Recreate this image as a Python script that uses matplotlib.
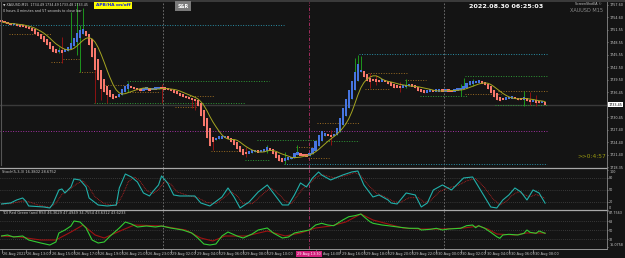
import numpy as np
import pandas as pd
import matplotlib
matplotlib.use("Agg")
import matplotlib.pyplot as plt
from matplotlib.lines import Line2D
from matplotlib.patches import Rectangle

W, H = 625, 258
BG = "#141414"

# ── Price data (M15 bars, 26 Aug 11:00 -> 30 Aug) ───────────────────────────
CLOSE = [
    1753.5, 1753.2, 1753.0, 1752.7, 1753.0, 1752.5, 1752.3, 1752.5, 1752.0, 1751.8,
    1751.3, 1750.6, 1750.1, 1749.4, 1748.6, 1747.9, 1746.9, 1746.2, 1746.0, 1746.5,
    1746.2, 1746.7, 1747.4, 1748.4, 1749.6, 1750.8, 1751.5, 1751.8, 1750.1, 1747.9,
    1745.0, 1741.9, 1739.4, 1737.3, 1736.5, 1735.8, 1735.3, 1734.8, 1735.3, 1736.1,
    1737.3, 1738.0, 1738.5, 1737.7, 1737.3, 1737.0, 1736.8, 1737.3, 1737.5, 1737.0,
    1737.3, 1737.5, 1737.7, 1737.5, 1737.3, 1737.0, 1736.8, 1736.3, 1736.1, 1735.6,
    1735.3, 1735.1, 1734.8, 1734.6, 1734.4, 1733.1, 1730.7, 1728.3, 1725.4, 1723.5,
    1724.4, 1725.4, 1725.9, 1725.6, 1725.6, 1725.4, 1724.4, 1723.7, 1722.7, 1722.0,
    1721.3, 1721.5, 1722.0, 1722.3, 1722.5, 1722.0, 1722.3, 1722.5, 1723.2, 1722.5,
    1721.5, 1720.6, 1719.8, 1719.6, 1720.3, 1720.6, 1720.8, 1721.8, 1722.0, 1721.3,
    1721.0, 1721.0, 1721.8, 1723.0, 1724.7, 1726.1, 1727.1, 1726.6, 1726.1, 1725.6,
    1726.4, 1727.8, 1730.2, 1732.7, 1734.8, 1737.0, 1739.2, 1741.4, 1743.3, 1741.9,
    1740.2, 1739.2, 1739.0, 1739.4, 1739.2, 1739.0, 1739.4, 1739.2, 1738.5, 1738.0,
    1737.5, 1737.7, 1737.7, 1738.0, 1738.2, 1738.5, 1738.0, 1737.5, 1736.8, 1736.5,
    1736.3, 1736.8, 1737.0, 1736.8, 1737.0, 1737.0, 1736.8, 1737.0, 1736.8, 1736.8,
    1737.0, 1737.3, 1737.3, 1738.0, 1738.7, 1739.2, 1739.0, 1739.0, 1739.2, 1738.7,
    1738.2, 1737.3, 1736.3, 1735.3, 1734.6, 1734.4, 1734.8, 1735.1, 1735.1, 1735.3,
    1735.1, 1734.6, 1734.8, 1735.1, 1734.4, 1734.1, 1734.4, 1734.1, 1733.9, 1734.1,
    1733.45,
]
FIRST_OPEN = 1754.0

# notable wicks: bar, high, low
WICK_BAR = [19, 20, 23, 25, 26, 27, 31, 33, 35, 42, 53, 63, 64, 70, 81, 88, 94, 98,
            109, 117, 118, 119, 122, 124, 132, 134, 152, 153, 156, 173, 175, 177]
WICK_HI = [1747.43, 1749.85, 1756.00, 1758.07, 1752.75, 1756.86, 1743.07, 1738.23,
           1736.29, 1738.96, 1738.47, 1735.08, 1734.84, 1724.92, 1723.23, 1723.71,
           1722.02, 1723.71, 1727.34, 1744.76, 1745.49, 1745.25, 1741.13, 1740.65,
           1738.96, 1739.68, 1738.47, 1739.92, 1739.68, 1736.78, 1736.54, 1735.81]
WICK_LO = [1745.97, 1743.55, 1747.91, 1745.49, 1741.38, 1751.54, 1733.87, 1734.60,
           1733.87, 1736.54, 1733.87, 1732.66, 1732.18, 1722.50, 1720.81, 1721.77,
           1719.11, 1721.29, 1723.71, 1739.44, 1741.86, 1741.38, 1737.50, 1738.23,
           1736.54, 1737.50, 1735.57, 1737.50, 1738.00, 1733.15, 1733.39, 1733.15]

# support / resistance levels: price, first bar, last bar, kind
LVL_PRICE = [1752.75, 1745.73, 1727.10, 1719.11, 1750.57, 1743.80, 1744.52, 1741.38,
             1739.20, 1738.23, 1736.54, 1733.87, 1735.57, 1732.91, 1722.26, 1720.08,
             1724.92, 1723.23, 1720.56, 1729.03, 1724.68, 1741.13, 1737.26, 1739.44,
             1740.41, 1736.78, 1735.57, 1736.05, 1733.39]
LVL_FROM = [0, 119, 0, 94, 3, 17, 21, 26, 42, 33, 42, 31, 62, 58, 70, 81, 85, 98, 102,
            105, 108, 122, 121, 134, 154, 165, 139, 154, 164]
LVL_TO = [93, 180, 180, 180, 16, 20, 25, 31, 88, 42, 52, 80, 70, 64, 79, 88, 104, 103,
          108, 118, 118, 134, 128, 140, 180, 180, 154, 165, 180]
LVL_KIND = ["c", "c", "m", "c", "o", "o", "o", "o", "g", "o", "o", "g", "o", "o", "o",
            "g", "g", "o", "o", "o", "g", "o", "o", "o", "g", "o", "g", "o", "g"]

MAIN_TICKS = [1757.60, 1754.60, 1751.55, 1748.55, 1745.55, 1742.50, 1739.50, 1736.45,
              1730.45, 1727.40, 1724.40, 1721.40, 1718.35]

# ── Stochastic(5,3,3) ────────────────────────────────────────────────────────
STO_BARS = [0, 3, 5, 7, 8, 9, 14, 16, 17, 19, 20, 21, 23, 24, 26, 28, 29, 32, 35, 38,
            39, 41, 43, 45, 47, 49, 50, 52, 53, 55, 57, 59, 64, 66, 69, 73, 75, 77, 79,
            82, 85, 88, 90, 93, 95, 97, 99, 101, 103, 105, 106, 109, 113, 116, 118, 120,
            123, 125, 128, 129, 131, 134, 137, 139, 141, 143, 146, 149, 153, 156, 159,
            162, 164, 166, 168, 170, 172, 174, 176, 178, 180]
STO_MAIN = [14.3, 16.8, 24.3, 29.3, 21.8, 9.3, 6.8, 4.3, 14.3, 49.3, 51.8, 41.8, 56.8,
            76.8, 74.3, 56.8, 29.3, 11.8, 9.3, 11.8, 54.3, 89.3, 81.8, 69.3, 41.8, 34.3,
            44.3, 61.8, 84.3, 66.8, 36.8, 34.3, 34.3, 16.8, 9.3, 31.8, 54.3, 31.8, 4.3,
            19.3, 44.3, 61.8, 41.8, 11.8, 11.8, 36.8, 66.8, 56.8, 79.3, 94.3, 86.8, 74.3,
            86.8, 94.3, 96.8, 61.8, 31.8, 36.8, 24.3, 16.8, 14.3, 41.8, 36.8, 6.8, 16.8,
            49.3, 61.8, 49.3, 79.3, 81.8, 44.3, 6.8, 4.3, 24.3, 36.8, 54.3, 44.3, 24.3,
            49.3, 41.8, 16.4]
SIG_BARS = [0, 3, 7, 9, 12, 16, 18, 20, 22, 25, 27, 29, 31, 34, 38, 40, 42, 44, 46, 48,
            50, 52, 54, 56, 58, 62, 65, 68, 71, 74, 76, 78, 80, 83, 86, 89, 91, 94, 96,
            98, 100, 102, 104, 106, 110, 114, 117, 119, 121, 124, 127, 130, 132, 135,
            138, 140, 142, 145, 148, 151, 154, 157, 160, 163, 165, 167, 169, 171, 173,
            175, 177, 180]
STO_SIG = [14, 15, 22, 20, 12, 6, 16, 38, 48, 65, 72, 55, 32, 15, 10, 35, 70, 82, 70,
           48, 40, 50, 70, 65, 45, 35, 30, 18, 15, 32, 45, 35, 15, 15, 35, 55, 45, 22,
           15, 35, 55, 65, 80, 88, 80, 85, 93, 85, 65, 42, 32, 20, 18, 30, 30, 18, 22,
           45, 55, 60, 72, 78, 55, 25, 12, 20, 35, 45, 38, 32, 38, 28.7]

# ── TDI / RSI ────────────────────────────────────────────────────────────────
RSI_BARS = [0, 2, 4, 7, 9, 13, 16, 18, 19, 21, 23, 24, 26, 28, 30, 32, 34, 36, 39, 41,
            43, 45, 48, 51, 53, 56, 60, 63, 65, 67, 69, 71, 73, 75, 78, 80, 83, 85, 88,
            90, 93, 95, 97, 99, 102, 104, 106, 108, 110, 113, 115, 117, 119, 120, 122,
            123, 126, 128, 132, 135, 138, 139, 142, 144, 146, 148, 152, 154, 156, 157,
            158, 160, 162, 164, 165, 166, 168, 171, 173, 174, 175, 177, 178, 180]
RSI_GREEN = [38.6, 40.6, 36.6, 38.6, 30.6, 24.6, 20.6, 26.6, 44.6, 50.6, 58.6, 68.6,
             66.6, 54.6, 30.6, 24.6, 26.6, 38.6, 54.6, 66.6, 62.6, 56.6, 58.6, 56.6,
             58.6, 54.6, 50.6, 44.6, 34.6, 22.6, 20.6, 22.6, 38.6, 46.6, 38.6, 34.6,
             42.6, 50.6, 54.6, 44.6, 34.6, 36.6, 44.6, 47.2, 50.6, 60.6, 64.0, 60.6,
             59.2, 70.6, 77.2, 79.2, 82.6, 77.2, 67.2, 64.0, 60.6, 59.2, 56.0, 54.0,
             54.0, 50.6, 52.0, 54.0, 50.6, 52.6, 54.0, 59.2, 60.6, 55.2, 59.2, 54.0,
             46.0, 37.2, 34.0, 40.6, 42.0, 40.6, 44.0, 50.6, 46.0, 44.0, 48.6, 44.0]
RED_BARS = [0, 6, 13, 18, 23, 27, 31, 34, 40, 44, 53, 61, 66, 70, 74, 81, 88, 94, 99,
            104, 109, 114, 119, 123, 128, 133, 139, 146, 153, 158, 161, 164, 170, 174,
            180]
RSI_RED = [38.6, 36.6, 30.6, 30.6, 46.6, 60.6, 40.6, 34.6, 50.6, 60.6, 58.6, 50.6,
           34.6, 28.6, 38.6, 38.6, 48.6, 38.6, 44.6, 54.6, 58.6, 66.6, 82.6, 70.6,
           62.6, 54.6, 52.6, 52.6, 54.6, 58.6, 52.6, 42.6, 40.6, 44.6, 44.6]

# ── Axis labels ──────────────────────────────────────────────────────────────
DATE_BARS = list(range(0, 181, 8))
DATE_LABELS = ["26 Aug 2022", "26 Aug 13:00", "26 Aug 15:00", "26 Aug 17:00",
               "26 Aug 19:00", "26 Aug 21:00", "26 Aug 23:00", "29 Aug 02:00",
               "29 Aug 04:00", "29 Aug 06:00", "29 Aug 08:00", "29 Aug 10:00",
               "29 Aug 12:00", "29 Aug 14:00", "29 Aug 16:00", "29 Aug 18:00",
               "29 Aug 20:00", "29 Aug 22:00", "30 Aug 00:00", "30 Aug 02:00",
               "30 Aug 04:00", "30 Aug 06:00", "30 Aug 08:00"]
GRAY_VLINES = [53.5, 146.5]
PINK_VLINE = 101.8
PINK_LABEL = "29 Aug 13:30"

# ── Figure ───────────────────────────────────────────────────────────────────
fig = plt.figure(figsize=(W / 100, H / 100), dpi=100, facecolor=BG)
plt.rcParams["font.family"] = ["DejaVu Sans"]
TXT = "#c8c8c8"


def add_ax(y0, y1):
    ax = fig.add_axes([0, 1 - y1 / H, 607 / W, (y1 - y0) / H])
    ax.set_facecolor(BG)
    for s in ax.spines.values():
        s.set_visible(False)
    ax.set_xlim(-0.5, 200.5)
    ax.yaxis.tick_right()
    ax.tick_params(axis="y", colors=TXT, labelsize=2.4, length=1.0,
                   width=0.4, pad=0.6)
    ax.tick_params(axis="x", bottom=False, labelbottom=False)
    return ax


def fig_line(xs, ys, **kw):
    fig.add_artist(Line2D([x / W for x in xs], [1 - y / H for y in ys],
                          transform=fig.transFigure, **kw))


def ftext(x, y, s, **kw):
    fig.text(x / W, 1 - y / H, s, **kw)


ax_m = add_ax(2, 168)
ax_s = add_ax(168, 210)
ax_r = add_ax(210, 249)

# main: Heiken-Ashi style candles (open = mid of previous body)
close = np.array(CLOSE)
opn = np.empty_like(close)
opn[0] = FIRST_OPEN
for i in range(1, len(close)):
    opn[i] = (opn[i - 1] + close[i - 1]) / 2
high = np.maximum(opn, close)
low = np.minimum(opn, close)
for b, hi, lo in zip(WICK_BAR, WICK_HI, WICK_LO):
    high[b] = max(high[b], hi)
    low[b] = min(low[b], lo)
x = np.arange(len(close))
bull = close >= opn
ax_m.vlines(x, low, high, colors=np.where(bull, "#1faa1f", "#a01212"), lw=0.6, zorder=3)
body_h = np.maximum(np.abs(close - opn), 0.6)
body_lo = (opn + close) / 2 - body_h / 2
ax_m.bar(x, body_h, bottom=body_lo, width=0.72,
         color=np.where(bull, "#4675e0", "#f7786c"), linewidth=0, zorder=4)

ma = pd.Series(close).rolling(8, min_periods=1).mean()
ax_m.plot(x, ma, color="#a5a521", lw=0.7, zorder=5)

lvl_col = {"c": "#2a8fa6", "m": "#a332a3", "o": "#9a6b22", "g": "#2f9a36"}
for p, a, b, k in zip(LVL_PRICE, LVL_FROM, LVL_TO, LVL_KIND):
    ax_m.hlines(p, a - 0.5, b + 0.5, colors=lvl_col[k], lw=0.7,
                linestyles=(0, (1, 1.6)), zorder=2)

ax_m.axhline(close[-1], color="#3a3a3a", lw=1.0, zorder=1)
ax_m.set_ylim(1718.14, 1758.32)
ax_m.set_yticks(MAIN_TICKS)
ax_m.set_yticklabels([f"{t:.2f}" for t in MAIN_TICKS])
ax_m.text(1.002, close[-1], f"{close[-1]:.2f}", transform=ax_m.get_yaxis_transform(),
          fontsize=2.4, color="black", va="center", ha="left",
          bbox=dict(boxstyle="square,pad=0.15", fc="white", ec="none"))

# stochastic
ax_s.set_ylim(-0.75, 104.25)
for lv in (20, 50, 80):
    ax_s.axhline(lv, color="#5a5a5a", lw=0.5, ls=(0, (1, 2)))
ax_s.plot(SIG_BARS, STO_SIG, color="#c42525", lw=0.6, ls=(0, (1, 1)))
ax_s.plot(STO_BARS, STO_MAIN, color="#21b0aa", lw=0.8)
ax_s.set_yticks([0, 20, 50, 80, 100])
ax_s.set_yticklabels(["0", "20", "50", "80", "100"])
sl = ax_s.get_yticklabels()
sl[0].set_va("bottom")
sl[-1].set_va("top")

# TDI
ax_r.set_ylim(12.6, 90.6)
for lv in (32, 50, 68):
    ax_r.axhline(lv, color="#5a5a5a", lw=0.5, ls=(0, (1, 2)))
ax_r.plot(RED_BARS, RSI_RED, color="#a01212", lw=0.8)
ax_r.plot(RSI_BARS, RSI_GREEN, color="#33cc33", lw=0.8)
ax_r.set_yticks([16.0758, 32, 50, 68, 87.7563])
ax_r.set_yticklabels(["16.0758", "32", "50", "68", "87.7563"])
rl = ax_r.get_yticklabels()
rl[0].set_va("bottom")
rl[-1].set_va("top")

# date strip: the label under the pink cursor label is skipped, the one
# partly covered by it shows only its visible tail
for b, lab in zip(DATE_BARS, DATE_LABELS):
    if PINK_VLINE - 7 < b < PINK_VLINE:
        continue
    ax_r.plot([b, b], [-0.02, -0.09], transform=ax_r.get_xaxis_transform(),
              color=TXT, lw=0.4, clip_on=False)
    if 0 < b - PINK_VLINE < 6:
        ax_r.text(PINK_VLINE + 4.6, -0.12, lab.split(" ", 1)[1],
                  transform=ax_r.get_xaxis_transform(), fontsize=2.4, color=TXT,
                  ha="left", va="center")
    else:
        ax_r.text(b + 0.6, -0.12, lab, transform=ax_r.get_xaxis_transform(),
                  fontsize=2.5, color=TXT, ha="left", va="center")
ax_r.text(PINK_VLINE, -0.12, PINK_LABEL, transform=ax_r.get_xaxis_transform(),
          fontsize=2.5, color="white", ha="center", va="center",
          bbox=dict(boxstyle="square,pad=0.25", fc="#d0207a", ec="none"))

for ax in (ax_m, ax_s, ax_r):
    for v in GRAY_VLINES:
        ax.axvline(v, color="#7a7a7a", lw=0.6, ls=(0, (2, 2)), zorder=1)
    ax.axvline(PINK_VLINE, color="#b8306a", lw=0.6, ls=(0, (4, 2, 1, 2)), zorder=1)

# frame / separators
fig.add_artist(Rectangle((0, 1 - 2 / H), 1, 2 / H, transform=fig.transFigure,
                         fc="#3a3a3a", ec="none"))
fig_line([0, 607], [168, 168], color="#a8a8a8", lw=0.9)
fig_line([0, 607], [210, 210], color="#a8a8a8", lw=0.9)
fig_line([0, 607], [249, 249], color="#a8a8a8", lw=0.6)
fig_line([607, 607], [2, 249], color="#8a8a8a", lw=0.6)
fig_line([0.8, 0.8], [2, 165], color="#555555", lw=0.8)

# texts
ftext(3, 5, "\u25bc XAUUSD,M15  1734.49 1734.49 1733.48 1733.45", fontsize=2.3,
      color="#d0d0d0", va="center")
ftext(3, 11, "0 hours 4 minutes and 57 seconds to close bar", fontsize=2.4,
      color="#d0d0d0", va="center")
ftext(113, 5.5, "APB/HA on/off", fontsize=3.2, color="#1020e0", weight="bold",
      ha="center", va="center",
      bbox=dict(boxstyle="square,pad=0.3", fc="#ffff00", ec="none"))
ftext(183, 6, "S&R", fontsize=3.4, color="white", weight="bold", ha="center",
      va="center", bbox=dict(boxstyle="square,pad=0.45", fc="#7a7a7a", ec="none"))
ftext(506, 6.5, "2022.08.30 06:25:03", fontsize=4.6, color="white", weight="bold",
      ha="center", va="center")
ftext(588, 4, "ScreenShotEA \u00a9", fontsize=2.3, color=TXT, ha="center",
      va="center")
ftext(587, 10.5, "XAUUSD M15", fontsize=3.6, color="#8a8a8a", ha="center",
      va="center")
ftext(592, 157, ">>0:4:57", fontsize=4.2, color="#9a9a10", ha="center", va="center")
ftext(2, 172, "Stoch(5,3,3) 16.3802 28.6752", fontsize=2.6, color=TXT,
      va="center")
ftext(2, 213.5, "TDI Red Green (and RSI) 46.3629 47.4949 34.7554 43.6312 43.6233",
      fontsize=2.6, color=TXT, va="center")

fig.savefig("out.png", dpi=100, facecolor=BG)
